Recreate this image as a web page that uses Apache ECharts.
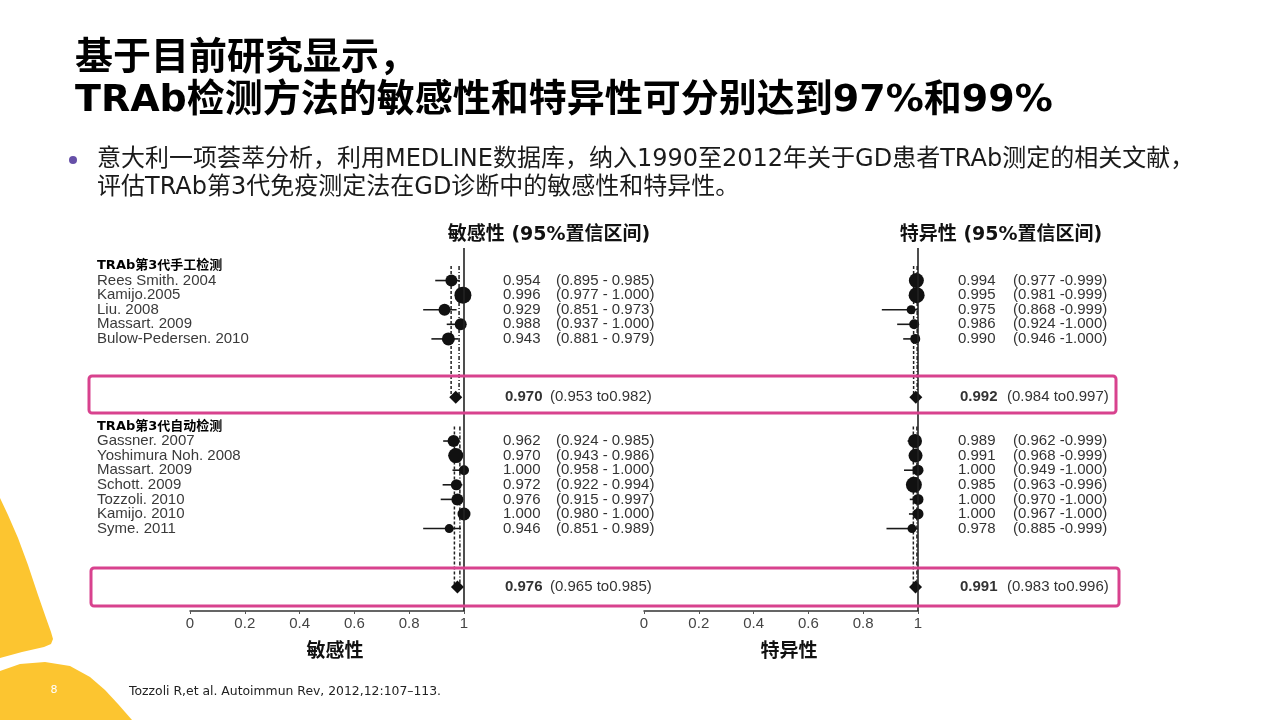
<!doctype html>
<html>
<head>
<meta charset="UTF-8">
<script src="https://cdn.jsdelivr.net/npm/echarts@6/dist/echarts.min.js"></script>
<style>
  html, body { margin: 0; padding: 0; background: #fff; }
  #main { width: 1280px; height: 720px; }
</style>
</head>
<body>
<div id="main"></div>
<script>
// ---- data ----
var group1Name = 'TRAb第3代手工检测';
var group2Name = 'TRAb第3代自动检测';

var studies1 = ['Rees Smith. 2004', 'Kamijo.2005', 'Liu. 2008', 'Massart. 2009', 'Bulow-Pedersen. 2010'];
var sens1   = [0.954, 0.996, 0.929, 0.988, 0.943];
var sensLo1 = [0.895, 0.977, 0.851, 0.937, 0.881];
var sensHi1 = [0.985, 1.000, 0.973, 1.000, 0.979];
var sensWeight1 = [12, 17, 12, 12, 13];
var spec1   = [0.994, 0.995, 0.975, 0.986, 0.990];
var specLo1 = [0.977, 0.981, 0.868, 0.924, 0.946];
var specHi1 = [0.999, 0.999, 0.999, 1.000, 1.000];
var specWeight1 = [15, 16, 9, 10, 10];

var studies2 = ['Gassner. 2007', 'Yoshimura Noh. 2008', 'Massart. 2009', 'Schott. 2009', 'Tozzoli. 2010', 'Kamijo. 2010', 'Syme. 2011'];
var sens2   = [0.962, 0.970, 1.000, 0.972, 0.976, 1.000, 0.946];
var sensLo2 = [0.924, 0.943, 0.958, 0.922, 0.915, 0.980, 0.851];
var sensHi2 = [0.985, 0.986, 1.000, 0.994, 0.997, 1.000, 0.989];
var sensWeight2 = [12, 15, 10, 11, 12, 13, 9];
var spec2   = [0.989, 0.991, 1.000, 0.985, 1.000, 1.000, 0.978];
var specLo2 = [0.962, 0.968, 0.949, 0.963, 0.970, 0.967, 0.885];
var specHi2 = [0.999, 0.999, 1.000, 0.996, 1.000, 1.000, 0.999];
var specWeight2 = [14, 14, 11, 16, 11, 11, 9];

// pooled estimates [manual, automated]
var pooledSens   = [0.970, 0.976];
var pooledSensLo = [0.953, 0.965];
var pooledSensHi = [0.982, 0.985];
var pooledSpec   = [0.992, 0.991];
var pooledSpecLo = [0.984, 0.983];
var pooledSpecHi = [0.997, 0.996];

var xTicks = [0, 0.2, 0.4, 0.6, 0.8, 1];

// ---- row layout (one row per line of the plot) ----
var head1 = 0;
var rows1 = studies1.map(function (s, i) { return head1 + 1 + i; });
var pooledRow1 = head1 + studies1.length + 4;
var head2 = pooledRow1 + 2;
var rows2 = studies2.map(function (s, i) { return head2 + 1 + i; });
var pooledRow2 = head2 + studies2.length + 4;
var pooledRows = [pooledRow1, pooledRow2];
var headRows = [head1, head2];

var LATIN = '"Liberation Sans", Arial, sans-serif';
var CJK = '"DejaVu Sans", "Noto Sans CJK SC", sans-serif';

function studyData(est, lo, hi, w, rows) {
  return est.map(function (v, i) { return [v, rows[i], lo[i], hi[i], w[i]]; });
}

function renderStudy(params, api) {
  var row = api.value(1);
  var p = api.coord([api.value(0), row]);
  var a = api.coord([api.value(2), row]);
  var b = api.coord([api.value(3), row]);
  return {
    type: 'group',
    children: [
      { type: 'line', shape: { x1: a[0], y1: a[1], x2: b[0], y2: b[1] },
        style: { stroke: '#1a1a1a', lineWidth: 1.6 } },
      { type: 'circle', shape: { cx: p[0], cy: p[1], r: api.value(4) / 2 },
        style: { fill: '#111' } }
    ]
  };
}

// dashed lines through the pooled CI bounds, from group header to pooled row
function guideData(lo, hi) {
  var out = [];
  for (var g = 0; g < 2; g++) {
    out.push([lo[g], headRows[g], pooledRows[g], 0]);
    out.push([hi[g], headRows[g], pooledRows[g], 1]);
  }
  return out;
}

function renderGuide(params, api) {
  var a = api.coord([api.value(0), api.value(1)]);
  var b = api.coord([api.value(0), api.value(2)]);
  return {
    type: 'line',
    shape: { x1: a[0], y1: a[1], x2: b[0], y2: b[1] },
    style: { stroke: '#222', lineWidth: 1.5, lineDash: api.value(3) ? [4, 2, 1, 2] : [3, 2] }
  };
}

// text table for one panel
function textList(e1, l1, h1, e2, l2, h2, pe, pl, ph, sep, withNames) {
  var list = [];
  var f = function (v) { return v.toFixed(3); };
  if (withNames) list.push({ row: head1, name: group1Name, head: true });
  e1.forEach(function (v, i) {
    list.push({ row: rows1[i], name: withNames ? studies1[i] : null, est: f(v), ci: '(' + f(l1[i]) + sep + f(h1[i]) + ')' });
  });
  list.push({ row: pooledRow1, est: f(pe[0]), ci: '(' + f(pl[0]) + ' to' + f(ph[0]) + ')', pooled: true });
  if (withNames) list.push({ row: head2, name: group2Name, head: true });
  e2.forEach(function (v, i) {
    list.push({ row: rows2[i], name: withNames ? studies2[i] : null, est: f(v), ci: '(' + f(l2[i]) + sep + f(h2[i]) + ')' });
  });
  list.push({ row: pooledRow2, est: f(pe[1]), ci: '(' + f(pl[1]) + ' to' + f(ph[1]) + ')', pooled: true });
  return list;
}

function renderText(list, cols) {
  return function (params, api) {
    var d = list[params.dataIndex];
    var y = api.coord([0, d.row])[1];
    var kids = [];
    if (d.head) {
      kids.push({ type: 'text', style: { x: cols.name, y: y, text: d.name, fill: '#000',
        font: 'bold 13px ' + CJK, verticalAlign: 'middle' } });
    } else {
      if (d.name) kids.push({ type: 'text', style: { x: cols.name, y: y, text: d.name, fill: '#3a3a3a',
        font: '15px ' + LATIN, verticalAlign: 'middle' } });
      kids.push({ type: 'text', style: { x: d.pooled ? cols.pe : cols.e, y: y, text: d.est, fill: '#333',
        font: (d.pooled ? 'bold ' : '') + '15px ' + LATIN, verticalAlign: 'middle' } });
      kids.push({ type: 'text', style: { x: d.pooled ? cols.pci : cols.ci, y: y, text: d.ci, fill: '#333',
        font: '15px ' + LATIN, verticalAlign: 'middle' } });
    }
    return { type: 'group', children: kids };
  };
}

var sensText = textList(sens1, sensLo1, sensHi1, sens2, sensLo2, sensHi2, pooledSens, pooledSensLo, pooledSensHi, ' - ', true);
var specText = textList(spec1, specLo1, specHi1, spec2, specLo2, specHi2, pooledSpec, pooledSpecLo, pooledSpecHi, ' -', false);

function xAxisCfg(idx, name) {
  return {
    gridIndex: idx, type: 'value',
    min: xTicks[0], max: xTicks[xTicks.length - 1], interval: xTicks[1] - xTicks[0],
    axisLine: { show: true, onZero: false, lineStyle: { color: '#333', width: 1.5 } },
    axisTick: { show: true, length: 3, lineStyle: { color: '#555' } },
    axisLabel: { color: '#444', fontSize: 15, fontFamily: LATIN, margin: 5 },
    splitLine: { show: false },
    name: name, nameLocation: 'middle', nameGap: 32,
    nameTextStyle: { color: '#111', fontSize: 19, fontWeight: 'bold', fontFamily: CJK, padding: [0, 0, 0, 16] }
  };
}

function yAxisCfg(idx) {
  return { gridIndex: idx, type: 'value', inverse: true, min: -1.23, max: 23.65, show: false };
}

function panelSeries(idx, est1, lo1, hi1, w1, est2, lo2, hi2, w2, pooled, pLo, pHi, text, cols) {
  return [
    { type: 'custom', xAxisIndex: idx, yAxisIndex: idx, renderItem: renderGuide,
      data: guideData(pLo, pHi), silent: true, z: 2 },
    { type: 'custom', xAxisIndex: idx, yAxisIndex: idx, renderItem: renderStudy,
      data: studyData(est1, lo1, hi1, w1, rows1).concat(studyData(est2, lo2, hi2, w2, rows2)), z: 3 },
    { type: 'scatter', xAxisIndex: idx, yAxisIndex: idx, symbol: 'diamond', symbolSize: [13, 13],
      itemStyle: { color: '#111', opacity: 1 }, z: 4,
      data: pooled.map(function (v, i) { return [v, pooledRows[i]]; }),
      markLine: { silent: true, symbol: 'none', label: { show: false },
        lineStyle: { color: '#222', type: 'solid', width: 1.6 }, data: [{ xAxis: 1 }] } },
    { type: 'custom', xAxisIndex: idx, yAxisIndex: idx, renderItem: renderText(text, cols),
      data: text.map(function (d) { return [0, d.row]; }), silent: true, z: 5 }
  ];
}

var blobLeft = [[0, 498], [8, 515], [18, 538], [28, 565], [38, 595], [46, 618], [51, 632], [53, 639],
  [51, 644], [44, 647], [22, 652], [0, 658]];
var blobBottom = [[0, 671], [20, 664], [45, 662], [70, 666], [90, 677], [105, 690], [118, 704], [132, 720], [0, 720]];

var chart = echarts.init(document.getElementById('main'));

var option = {
  backgroundColor: '#fff',
  animation: false,
  grid: [
    { left: 190, top: 248, width: 274, height: 363 },
    { left: 644, top: 248, width: 274, height: 363 }
  ],
  xAxis: [xAxisCfg(0, '敏感性'), xAxisCfg(1, '特异性')],
  yAxis: [yAxisCfg(0), yAxisCfg(1)],
  series: []
    .concat(panelSeries(0, sens1, sensLo1, sensHi1, sensWeight1, sens2, sensLo2, sensHi2, sensWeight2,
      pooledSens, pooledSensLo, pooledSensHi, sensText, { name: 97, e: 503, ci: 556, pe: 505, pci: 550 }))
    .concat(panelSeries(1, spec1, specLo1, specHi1, specWeight1, spec2, specLo2, specHi2, specWeight2,
      pooledSpec, pooledSpecLo, pooledSpecHi, specText, { name: 0, e: 958, ci: 1013, pe: 960, pci: 1007 })),
  graphic: [
    // slide decoration
    { type: 'polygon', shape: { points: blobLeft }, style: { fill: '#FCC530' }, z: 0 },
    { type: 'polygon', shape: { points: blobBottom }, style: { fill: '#FCC530' }, z: 0 },
    { type: 'text', style: { x: 54, y: 690, text: '8', fill: '#fff', font: '11px ' + CJK, align: 'center', verticalAlign: 'middle' } },
    { type: 'text', style: { x: 75, y: 59, text: '基于目前研究显示，', fill: '#000', font: 'bold 38px ' + CJK, verticalAlign: 'middle' } },
    { type: 'text', style: { x: 75, y: 101, text: 'TRAb检测方法的敏感性和特异性可分别达到97%和99%', fill: '#000', font: 'bold 38px ' + CJK, verticalAlign: 'middle' } },
    { type: 'circle', shape: { cx: 73, cy: 160, r: 4 }, style: { fill: '#6650A8' } },
    { type: 'text', style: { x: 97, y: 160, text: '意大利一项荟萃分析，利用MEDLINE数据库，纳入1990至2012年关于GD患者TRAb测定的相关文献，', fill: '#1a1a1a', font: '24px ' + CJK, verticalAlign: 'middle' } },
    { type: 'text', style: { x: 97, y: 188, text: '评估TRAb第3代免疫测定法在GD诊断中的敏感性和特异性。', fill: '#1a1a1a', font: '24px ' + CJK, verticalAlign: 'middle' } },
    // column headers
    { type: 'text', style: { x: 549, y: 235, text: '敏感性 (95%置信区间)', fill: '#111', font: 'bold 19px ' + CJK, align: 'center', verticalAlign: 'middle' } },
    { type: 'text', style: { x: 1001, y: 235, text: '特异性 (95%置信区间)', fill: '#111', font: 'bold 19px ' + CJK, align: 'center', verticalAlign: 'middle' } },
    // highlight boxes around pooled rows
    { type: 'rect', shape: { x: 89, y: 376, width: 1027, height: 37, r: 3 },
      style: { fill: 'none', stroke: '#D8428E', lineWidth: 3 }, z: 10 },
    { type: 'rect', shape: { x: 91, y: 568, width: 1028, height: 38, r: 3 },
      style: { fill: 'none', stroke: '#D8428E', lineWidth: 3 }, z: 10 },
    // reference
    { type: 'text', style: { x: 129, y: 692, text: 'Tozzoli R,et al. Autoimmun Rev, 2012,12:107–113.', fill: '#222', font: '12.4px "DejaVu Sans", sans-serif', verticalAlign: 'middle' } }
  ]
};

chart.setOption(option);
</script>
</body>
</html>
